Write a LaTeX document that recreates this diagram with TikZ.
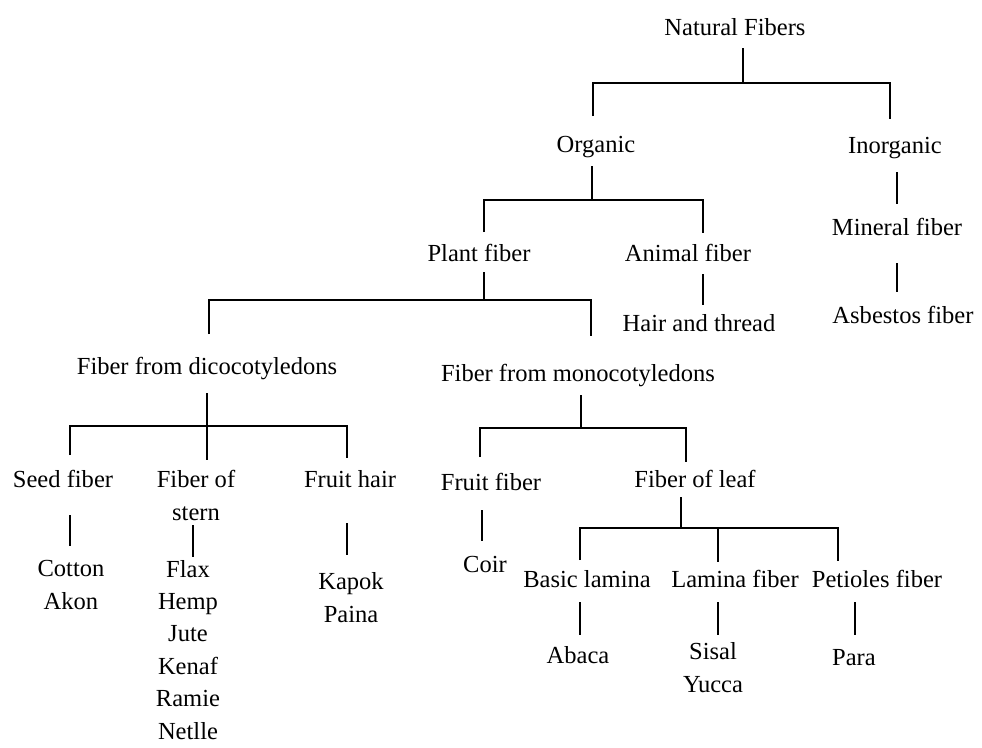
\documentclass[tikz,border=0pt]{standalone}
\usepackage{fontspec}
\setmainfont{Liberation Serif}
\begin{document}
\begin{tikzpicture}[x=0.75pt,y=-0.75pt,
  lbl/.style={inner sep=0pt,anchor=base,align=center,font=\fontsize{18.4pt}{24.75pt}\selectfont},
  link/.style={line width=1.4pt,line cap=butt,line join=miter}]
\useasboundingbox (0,0) rectangle (982,747);
% labels (anchor base = baseline of the last line)
\node[lbl] (nf) at (735,35) {Natural Fibers};
\node[lbl] (org) at (596,152) {Organic};
\node[lbl] (ino) at (895,153) {Inorganic};
\node[lbl] (min) at (897,235) {Mineral fiber};
\node[lbl] (asb) at (903,323) {Asbestos fiber};
\node[lbl] (pla) at (479,261) {Plant fiber};
\node[lbl] (ani) at (688,261) {Animal fiber};
\node[lbl] (hair) at (699,331) {Hair and thread};
\node[lbl] (dico) at (207,374) {Fiber from dicocotyledons};
\node[lbl] (mono) at (578,381) {Fiber from monocotyledons};
\node[lbl] (seed) at (63,487) {Seed fiber};
\node[lbl] (stern) at (196,520) {Fiber of\\stern};
\node[lbl] (fhair) at (350,487) {Fruit hair};
\node[lbl] (cot) at (71,609) {Cotton\\Akon};
\node[lbl, font=\fontsize{18.4pt}{24.3pt}\selectfont] (flax) at (188,739) {Flax\\Hemp\\Jute\\Kenaf\\Ramie\\Netlle};
\node[lbl] (kap) at (351,622) {Kapok\\Paina};
\node[lbl] (ffib) at (491,490) {Fruit fiber};
\node[lbl] (leaf) at (695,487) {Fiber of leaf};
\node[lbl] (coir) at (485,572) {Coir};
\node[lbl] (bas) at (587,587) {Basic lamina};
\node[lbl] (lam) at (735,587) {Lamina fiber};
\node[lbl] (pet) at (877,587) {Petioles fiber};
\node[lbl] (aba) at (578,663) {Abaca};
\node[lbl] (sis) at (713,692) {Sisal\\Yucca};
\node[lbl] (para) at (854,665) {Para};
% connector points
\coordinate (nfA) at (743,48);  \coordinate (nfB) at (743,83);
\coordinate (nfL) at (593,83);  \coordinate (nfR) at (890,83);
\coordinate (orgT) at (593,116); \coordinate (inoT) at (890,119);
\coordinate (orgA) at (592,166); \coordinate (orgB) at (592,200);
\coordinate (orgL) at (484,200); \coordinate (orgR) at (703,200);
\coordinate (plaT) at (484,232); \coordinate (aniT) at (703,233);
\coordinate (inoA) at (897,172); \coordinate (minT) at (897,204);
\coordinate (minA) at (897,263); \coordinate (asbT) at (897,292);
\coordinate (aniA) at (703,274); \coordinate (hairT) at (703,305);
\coordinate (plaA) at (484,272); \coordinate (plaB) at (484,300);
\coordinate (plaL) at (209,300); \coordinate (plaR) at (591,300);
\coordinate (dicoT) at (209,334); \coordinate (monoT) at (591,336);
\coordinate (dicoA) at (207,393); \coordinate (dicoB) at (207,426);
\coordinate (dicoL) at (70,426);  \coordinate (dicoR) at (347,426);
\coordinate (seedT) at (70,455);  \coordinate (sternT) at (207,460); \coordinate (fhairT) at (347,458);
\coordinate (seedA) at (70,515);  \coordinate (cotT) at (70,546);
\coordinate (sternA) at (193,525); \coordinate (flaxT) at (193,557);
\coordinate (fhairA) at (347,523); \coordinate (kapT) at (347,555);
\coordinate (monoA) at (581,395); \coordinate (monoB) at (581,428);
\coordinate (monoL) at (480,428); \coordinate (monoR) at (686,428);
\coordinate (ffibT) at (480,457); \coordinate (leafT) at (686,462);
\coordinate (ffibA) at (482,510); \coordinate (coirT) at (482,541);
\coordinate (leafA) at (681,497); \coordinate (leafB) at (681,528);
\coordinate (leafL) at (580,528); \coordinate (leafR) at (838,528);
\coordinate (lamB) at (718,528);
\coordinate (basT) at (580,560); \coordinate (lamT) at (718,562); \coordinate (petT) at (838,561);
\coordinate (basA) at (580,602); \coordinate (abaT) at (580,635);
\coordinate (lamA) at (718,602); \coordinate (sisT) at (718,635);
\coordinate (petA) at (855,602); \coordinate (paraT) at (855,635);
% connectors
\draw[link] (nfA) -- (nfB);
\draw[link] (orgT) -- (nfL) -- (nfR) -- (inoT);
\draw[link] (orgA) -- (orgB);
\draw[link] (plaT) -- (orgL) -- (orgR) -- (aniT);
\draw[link] (inoA) -- (minT);
\draw[link] (minA) -- (asbT);
\draw[link] (aniA) -- (hairT);
\draw[link] (plaA) -- (plaB);
\draw[link] (dicoT) -- (plaL) -- (plaR) -- (monoT);
\draw[link] (dicoA) -- (dicoB);
\draw[link] (seedT) -- (dicoL) -- (dicoR) -- (fhairT);
\draw[link] (dicoB) -- (sternT);
\draw[link] (seedA) -- (cotT);
\draw[link] (sternA) -- (flaxT);
\draw[link] (fhairA) -- (kapT);
\draw[link] (monoA) -- (monoB);
\draw[link] (ffibT) -- (monoL) -- (monoR) -- (leafT);
\draw[link] (ffibA) -- (coirT);
\draw[link] (leafA) -- (leafB);
\draw[link] (basT) -- (leafL) -- (leafR) -- (petT);
\draw[link] (lamB) -- (lamT);
\draw[link] (basA) -- (abaT);
\draw[link] (lamA) -- (sisT);
\draw[link] (petA) -- (paraT);
\end{tikzpicture}
\end{document}
